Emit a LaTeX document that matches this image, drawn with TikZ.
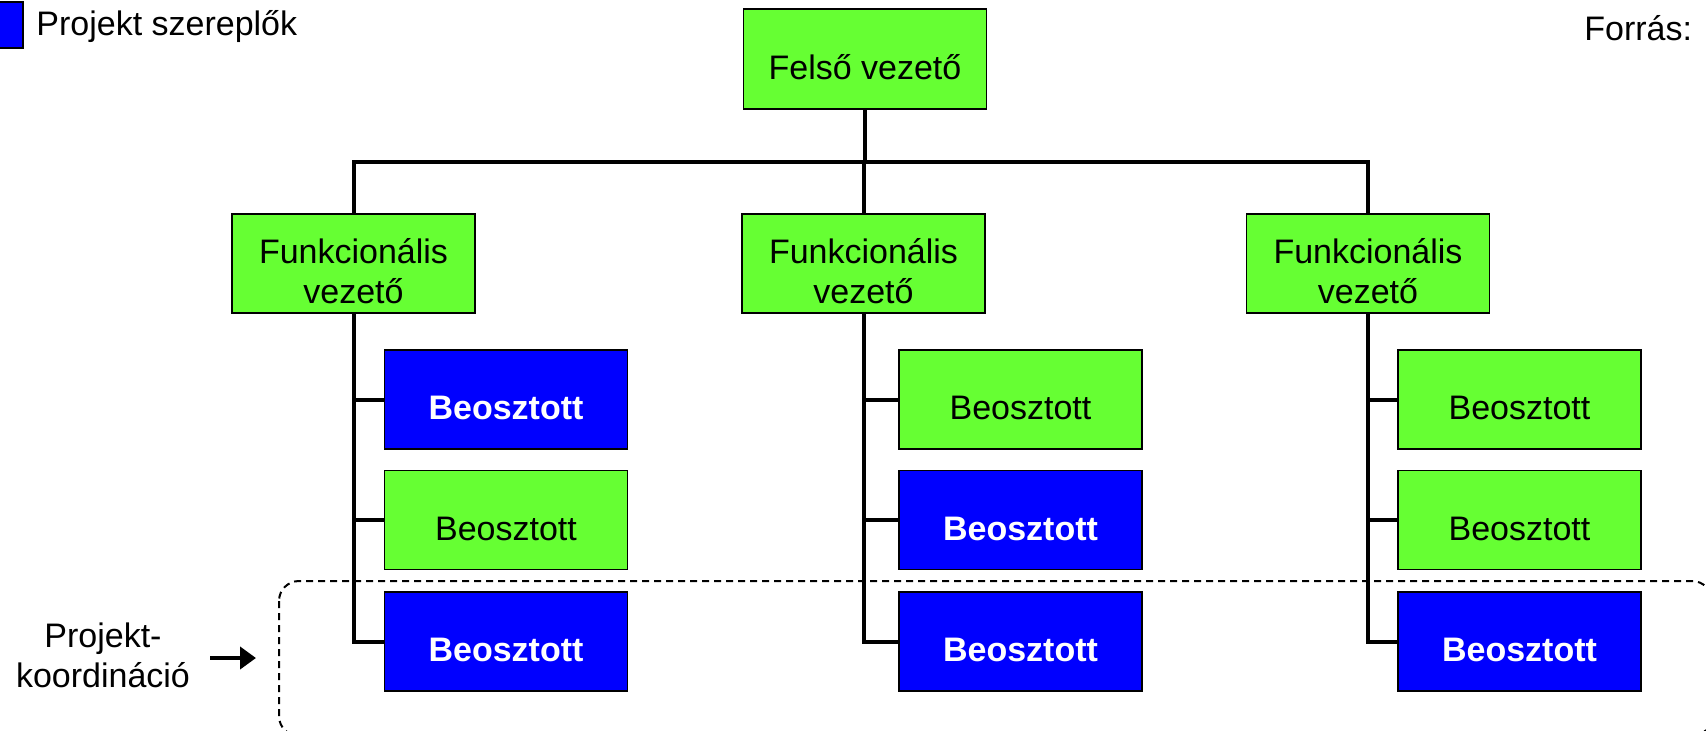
\documentclass[tikz,border=0pt]{standalone}
\usepackage{fontspec}
\setmainfont{Liberation Sans}
\usetikzlibrary{arrows.meta}
\definecolor{boxgreen}{RGB}{102,255,51}
\definecolor{boxblue}{RGB}{0,0,255}
\begin{document}
\begin{tikzpicture}[x=0.5pt,y=-0.5pt,
 every node/.style={font=\fontsize{17}{20}\selectfont, inner sep=0pt},
 orgbox/.style={draw=black, line width=0.8pt, minimum width=121.5pt, minimum height=49.5pt, align=center},
 gbox/.style={orgbox, fill=boxgreen},
 bbox/.style={orgbox, fill=boxblue, text=white, font=\fontsize{17}{20}\selectfont\bfseries},
 oneline/.style={text height=20pt, text depth=0pt},
 conn/.style={line width=2pt},
]
\useasboundingbox (0,0) rectangle (1706,730);
\clip (0,0) rectangle (1706,730);
% project coordination frame
\draw[line width=1pt, dash pattern=on 3.5pt off 2.5pt, rounded corners=10pt] (279,581) rectangle (1712,736);
% connectors
\node[gbox, oneline, minimum height=50pt] (top) at (865,59) {Felső vezető};
\node[gbox] (f1) at (353.5,263.5) {\rule{0pt}{20pt}Funkcionális\\vezető};
\node[gbox] (f2) at (863.5,263.5) {\rule{0pt}{20pt}Funkcionális\\vezető};
\node[gbox] (f3) at (1368,263.5) {\rule{0pt}{20pt}Funkcionális\\vezető};
\node[bbox, oneline] (b11) at (506,399.5) {Beosztott};
\node[gbox, oneline] (b12) at (506,520) {Beosztott};
\node[bbox, oneline] (b13) at (506,641.5) {Beosztott};
\node[gbox, oneline] (b21) at (1020.5,399.5) {Beosztott};
\node[bbox, oneline] (b22) at (1020.5,520) {Beosztott};
\node[bbox, oneline] (b23) at (1020.5,641.5) {Beosztott};
\node[gbox, oneline] (b31) at (1519.5,399.5) {Beosztott};
\node[gbox, oneline] (b32) at (1519.5,520) {Beosztott};
\node[bbox, oneline] (b33) at (1519.5,641.5) {Beosztott};
\coordinate (bus) at (864,162);
\draw[conn] (top.south) -- (top.south |- bus);
\draw[conn] (f1.north) -- (f1.north |- bus) -- (f3.north |- bus) -- (f3.north);
\draw[conn] (f2.north) -- (f2.north |- bus);
\foreach \c in {1,2,3}{
  \draw[conn] (f\c.south) -- (f\c.south |- b\c3.west) -- (b\c3.west);
  \draw[conn] (f\c.south |- b\c1.west) -- (b\c1.west);
  \draw[conn] (f\c.south |- b\c2.west) -- (b\c2.west);
}
% legend and notes
\node[draw=black, fill=boxblue, line width=0.8pt, minimum width=24pt, minimum height=23pt] (leg) at (-1,25) {};
\node[anchor=base west] (legtext) at (36,35) {Projekt szereplők};
\node[anchor=base west] (src) at (1584,40) {Forrás:};
\node[align=center] (pk) at (103,648) {\rule{0pt}{20pt}Projekt-\\koordináció};
\coordinate (arrS) at (210,658);
\coordinate (arrE) at (256,658);
\draw[line width=2pt, -{Triangle[length=8pt,width=11pt]}] (arrS) -- (arrE);
\end{tikzpicture}
\end{document}
